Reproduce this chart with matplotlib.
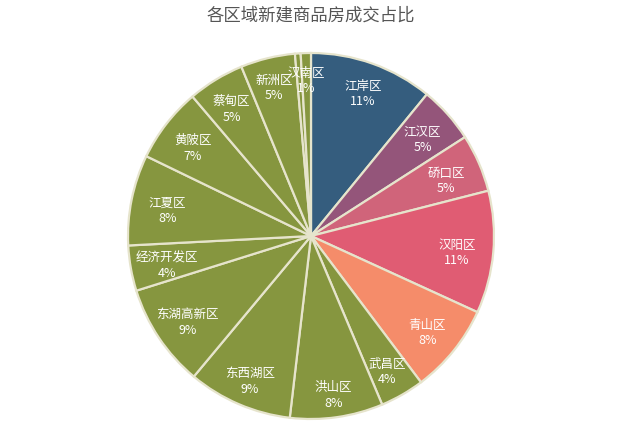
import matplotlib
matplotlib.use("Agg")
import matplotlib.pyplot as plt
import numpy as np

plt.rcParams['font.family'] = ['Noto Sans CJK SC', 'DejaVu Sans']

labels = ['江岸区', '江汉区', '硚口区', '汉阳区', '青山区', '武昌区', '洪山区', '东西湖区',
          '东湖高新区', '经济开发区', '江夏区', '黄陂区', '蔡甸区', '新洲区', '', '汉南区']
values = [10.9, 5.0, 5.1, 10.8, 7.9, 3.9, 8.2, 9.2, 9.1, 4.0, 8.0, 6.6, 5.0, 4.8, 0.5, 0.9]
pct_text = ['11%', '5%', '5%', '11%', '8%', '4%', '8%', '9%', '9%', '4%', '8%', '7%', '5%', '5%', '', '1%']
olive = '#86963f'
colors = ['#355d7e', '#94557a', '#d0647a', '#e05c73', '#f58c6a'] + [olive] * 11

fig = plt.figure(figsize=(6.22, 4.34), dpi=100)
ax = fig.add_axes([0.5 - 183/622, (434-236-183)/434, 366/622, 366/434])
wedges, _ = ax.pie(values, colors=colors, startangle=90, counterclock=False,
                   wedgeprops=dict(edgecolor='#e6e4cc', linewidth=1.6))
total = sum(values)
cum = 0
for v, lab, pt in zip(values, labels, pct_text):
    mid = 90 - (cum + v/2) / total * 360
    cum += v
    if not lab:
        continue
    r = 0.87 - 0.07 * abs(np.cos(np.radians(mid)))
    x, y = r*np.cos(np.radians(mid)), r*np.sin(np.radians(mid))
    ax.text(x, y - 0.02, lab + '\n' + pt, ha='center', va='center', color='white', fontsize=9, linespacing=1.25)
ax.set_aspect('equal')
ax.set_xlim(-1, 1); ax.set_ylim(-1, 1)
fig.text(0.5, 1 - 16/434, '各区域新建商品房成交占比', ha='center', va='center', fontsize=12.5, color='#555555')
fig.savefig('out.png', dpi=100, facecolor='white')
